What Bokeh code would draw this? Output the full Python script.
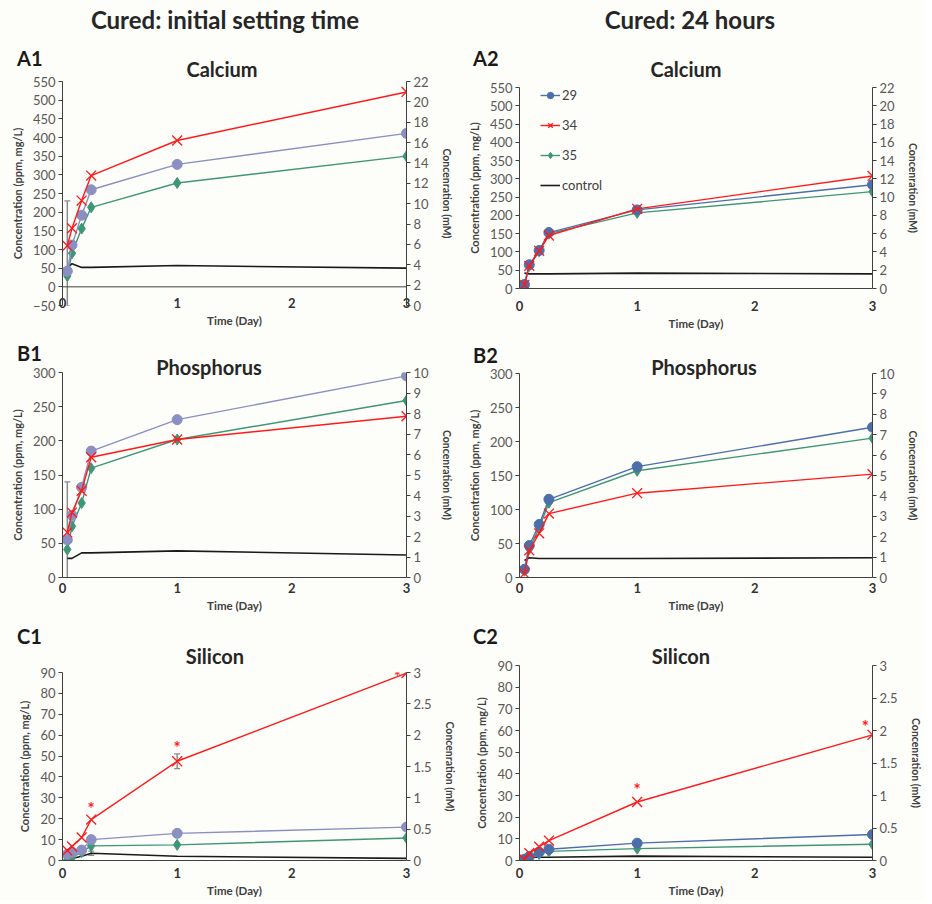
from bokeh.plotting import figure
from bokeh.models import (Range1d, LinearAxis, SingleIntervalTicker, FixedTicker, Span,
                          Whisker, ColumnDataSource, LabelSet, Legend, LegendItem,
                          Div, PrintfTickFormatter, TeeHead)
from bokeh.layouts import column, row
from bokeh.embed import file_html
from bokeh.resources import INLINE
from bokeh.core.properties import value

# ---------------- data ----------------
TIME = [0.042, 0.083, 0.167, 0.25, 1, 3]      # days (1 h, 2 h, 4 h, 6 h, 1 d, 3 d)
X_TICKS = [0, 1, 2, 3]
SERIES = ["29", "34", "35", "control"]

# Calcium (ppm)
A1_29 = [42, 112, 192, 260, 328, 411]
A1_34 = [110, 157, 231, 298, 392, 522]
A1_35 = [29, 90, 156, 213, 278, 350]
A1_CTRL = [50, 62, 52, 52, 57, 50]
A2_29 = [11, 65, 104, 153, 215, 284]
A2_34 = [10, 62, 103, 145, 218, 308]
A2_35 = [10, 62, 102, 150, 207, 265]
A2_CTRL = [42, 40, 40, 40, 42, 40]

# Phosphorus (ppm)
B1_29 = [55, 91, 132, 185, 231, 295]
B1_34 = [66, 95, 127, 176, 202, 236]
B1_35 = [41, 75, 109, 160, 202, 259]
B1_CTRL = [28, 28, 36, 36, 39, 33]
B2_29 = [12, 47, 78, 115, 163, 221]
B2_34 = [6, 40, 65, 94, 124, 152]
B2_35 = [10, 42, 73, 110, 157, 205]
B2_CTRL = [25, 29, 28, 28, 28, 29]

# Silicon (ppm)
C1_29 = [3, 4, 5, 10, 13, 16]
C1_34 = [4.8, 6.7, 11, 19.6, 47.5, 89.7]
C1_35 = [0.5, 1.5, 4, 7, 7.5, 10.8]
C1_CTRL = [0.5, 1, 2, 3.5, 2, 1]
C2_29 = [0.6, 1.8, 3.8, 5.2, 8, 12]
C2_34 = [0.5, 3.4, 6.4, 9.2, 27, 58]
C2_35 = [0.3, 1.2, 3, 4.2, 5.5, 7.5]
C2_CTRL = [1, 1.5, 1.5, 1.5, 2, 1.5]

# error bars (x, lower, upper)
A1_ERR_X, A1_ERR_LO, A1_ERR_HI = [0.042], [-50], [230]
B1_ERR_X, B1_ERR_LO, B1_ERR_HI = [0.042], [0], [140]
C1_ERR_X, C1_ERR_LO, C1_ERR_HI = [0.25, 1], [2.5, 44], [4.5, 51]

# significance asterisks
C1_STAR_X, C1_STAR_Y = [0.25, 1, 2.92], [25, 54, 88]
C2_STAR_X, C2_STAR_Y = [1, 2.94], [33, 62]

# ---------------- style ----------------
FONT = "Lato"
BG = "#fdfdfa"
LAV = "#8b8fc2"
BLUE = "#4c6faa"
RED = "#ff1a1a"
GREEN = "#3f9677"
BLACK = "#1a1a1a"
TICK_C = "#595959"

LEFT_W, RIGHT_W = 458, 466


def title_div(width, height, label, label_x, label_y, title, title_cx, title_cy):
    html = (
        f'<div style="position:relative;width:{width}px;height:{height}px;">'
        f'<div style="position:absolute;left:{label_x}px;top:{label_y}px;'
        f'transform:translate(0,-50%);font-family:{FONT};font-weight:bold;font-size:20px;'
        f'color:#1a1a1a;white-space:nowrap;line-height:24px;">{label}</div>'
        f'<div style="position:absolute;left:{title_cx}px;top:{title_cy}px;'
        f'transform:translate(-50%,-50%);font-family:{FONT};font-weight:bold;font-size:20px;'
        f'color:#262626;white-space:nowrap;line-height:24px;">{title}</div>'
        f'</div>'
    )
    return Div(text=html, width=width, height=height, margin=0,
               styles={"overflow": "visible", "position": "relative", "z-index": "3",
                       "background-color": BG})


def make_panel(col, y_rng, y_int, r_rng, r_int, s29, s34, s35, sctrl,
               height, top, bottom, x_standoff=5, zero_span=False,
               err=None, stars=None, r_fmt=None, legend=False):
    if col == 0:
        width, left, right = LEFT_W, 62, 52
    else:
        width, left, right = RIGHT_W, 61, 48
    p = figure(width=width, height=height, output_backend="svg", toolbar_location=None,
               title=None, margin=0,
               x_range=Range1d(0, 3), y_range=Range1d(*y_rng),
               min_border_left=left, min_border_right=right,
               min_border_top=top, min_border_bottom=bottom,
               background_fill_color=BG, border_fill_color=BG, border_fill_alpha=0,
               outline_line_color=None)
    p.grid.visible = False

    # x axis
    xa = p.xaxis[0]
    xa.ticker = FixedTicker(ticks=X_TICKS)
    xa.major_tick_out = 0
    xa.major_tick_in = 0
    xa.minor_tick_out = 0
    xa.minor_tick_in = 0
    xa.major_label_text_font = FONT
    xa.major_label_text_font_style = "bold"
    xa.major_label_text_font_size = "13px"
    xa.major_label_text_color = "#333333"
    xa.major_label_standoff = x_standoff
    xa.axis_label = "Time (Day)"
    xa.axis_label_text_font = FONT
    xa.axis_label_text_font_style = "bold"
    xa.axis_label_text_font_size = "11.5px"
    xa.axis_label_text_color = "#404040"
    xa.axis_label_standoff = 3
    xa.axis_line_color = "#404040"
    if zero_span:
        xa.axis_line_color = None
        p.add_layout(Span(location=0, dimension="width", line_color="#404040", line_width=1))

    # left axis
    ya = p.yaxis[0]
    ya.ticker = SingleIntervalTicker(interval=y_int)
    ya.major_tick_in = 0
    ya.major_tick_out = 4
    ya.minor_tick_in = 0
    ya.minor_tick_out = 0
    ya.major_label_text_font = FONT
    ya.major_label_text_font_size = "13px"
    ya.major_label_text_color = TICK_C
    ya.major_label_standoff = 3
    ya.axis_line_color = "#404040"
    ya.major_tick_line_color = "#404040"
    ya.axis_label = "Concentration (ppm, mg/L)"
    ya.axis_label_text_font = FONT
    ya.axis_label_text_font_style = "bold"
    ya.axis_label_text_font_size = "11px"
    ya.axis_label_text_color = "#404040"
    ya.axis_label_standoff = 6

    # right axis (mM)
    p.extra_y_ranges = {"mM": Range1d(*r_rng)}
    ra = LinearAxis(y_range_name="mM", ticker=SingleIntervalTicker(interval=r_int))
    ra.major_tick_in = 0
    ra.major_tick_out = 4
    ra.minor_tick_in = 0
    ra.minor_tick_out = 0
    ra.major_label_text_font = FONT
    ra.major_label_text_font_size = "13px"
    ra.major_label_text_color = TICK_C
    ra.major_label_standoff = 3
    ra.axis_line_color = "#404040"
    ra.major_tick_line_color = "#404040"
    ra.axis_label = "Concenration (mM)"
    ra.axis_label_text_font = FONT
    ra.axis_label_text_font_style = "bold"
    ra.axis_label_text_font_size = "10.5px"
    ra.axis_label_text_color = "#404040"
    ra.axis_label_standoff = 9
    if r_fmt:
        ra.formatter = PrintfTickFormatter(format=r_fmt)
    p.add_layout(ra, "right")

    c29 = LAV if col == 0 else BLUE

    if err is not None:
        ex, elo, ehi = err
        src = ColumnDataSource(dict(x=ex, lo=elo, hi=ehi))
        p.add_layout(Whisker(source=src, base="x", lower="lo", upper="hi", dimension="height",
                             line_color="#8c8c8c", line_width=1.5,
                             upper_head=TeeHead(size=6, line_color="#8c8c8c", line_width=1.2),
                             lower_head=TeeHead(size=6, line_color="#8c8c8c", line_width=1.2)))

    rc = p.line(TIME, sctrl, line_color=BLACK, line_width=1.6)
    l35 = p.line(TIME, s35, line_color=GREEN, line_width=1.4)
    m35 = p.scatter(TIME, s35, marker="diamond", size=11, fill_color=GREEN, line_color=GREEN)
    l29 = p.line(TIME, s29, line_color=c29, line_width=1.4)
    m29 = p.scatter(TIME, s29, marker="circle", size=10, fill_color=c29, line_color=c29)
    l34 = p.line(TIME, s34, line_color=RED, line_width=1.4)
    m34 = p.scatter(TIME, s34, marker="x", size=14, line_color=RED, line_width=1.3)

    if stars is not None:
        sx, sy = stars
        ssrc = ColumnDataSource(dict(x=sx, y=sy, t=["*"] * len(sx)))
        p.add_layout(LabelSet(source=ssrc, x="x", y="y", text="t", text_color=RED,
                              text_font=value(FONT), text_font_size="17px", text_font_style="bold",
                              text_align="center", text_baseline="middle"))

    if legend:
        frame_h = height - top - bottom
        items = [LegendItem(label=SERIES[0], renderers=[l29, m29]),
                 LegendItem(label=SERIES[1], renderers=[l34, m34]),
                 LegendItem(label=SERIES[2], renderers=[l35, m35]),
                 LegendItem(label=SERIES[3], renderers=[rc])]
        pad = 0
        gh = 16
        sp = 14
        leg_h = 4 * gh + 3 * sp + 2 * pad
        leg = Legend(items=items, location=(21, frame_h - leg_h), orientation="vertical",
                     glyph_width=20, glyph_height=gh, label_height=gh, spacing=sp,
                     padding=pad, margin=0, label_standoff=2,
                     label_text_font=FONT, label_text_font_size="13px",
                     label_text_color="#404040", border_line_color=None,
                     background_fill_alpha=0)
        p.add_layout(leg)
    return p


hdr_style = {"font-family": FONT, "font-weight": "bold", "font-size": "24px",
             "color": "#262626", "text-align": "center", "line-height": "40px",
             "background-color": BG, "box-sizing": "border-box", "overflow": "visible"}
h1 = Div(text="Cured: initial setting time", width=LEFT_W, height=36, margin=0,
         styles=dict(hdr_style, **{"padding-right": "8px"}))
h2 = Div(text="Cured: 24 hours", width=RIGHT_W, height=36, margin=0,
         styles=dict(hdr_style, **{"padding-right": "2px"}))

# row A: title strip 36-73, figure 73-332
tA1 = title_div(LEFT_W, 37, "A1", 17, 22, "Calcium", 222, 33)
tA2 = title_div(RIGHT_W, 37, "A2", 15, 22, "Calcium", 228, 33)
a1 = make_panel(0, (-50, 550), 50, (0, 22), 2, A1_29, A1_34, A1_35, A1_CTRL,
                259, 8, 27, x_standoff=-8, zero_span=True,
                err=(A1_ERR_X, A1_ERR_LO, A1_ERR_HI))
a2 = make_panel(1, (0, 550), 50, (0, 22), 2, A2_29, A2_34, A2_35, A2_CTRL,
                259, 14, 44, x_standoff=12, legend=True)

# row B: title strip 332-357, figure 357-614
tB1 = title_div(LEFT_W, 25, "B1", 17, 21, "Phosphorus", 209, 35)
tB2 = title_div(RIGHT_W, 25, "B2", 15, 23, "Phosphorus", 246, 35)
b1 = make_panel(0, (0, 300), 50, (0, 10), 1, B1_29, B1_34, B1_35, B1_CTRL,
                257, 15, 37, x_standoff=5, err=(B1_ERR_X, B1_ERR_LO, B1_ERR_HI))
b2 = make_panel(1, (0, 300), 50, (0, 10), 1, B2_29, B2_34, B2_35, B2_CTRL,
                257, 16, 37, x_standoff=5)

# row C: title strip 614-640, figure 640-900
tC1 = title_div(LEFT_W, 26, "C1", 17, 22, "Silicon", 215, 42)
tC2 = title_div(RIGHT_W, 26, "C2", 15, 22, "Silicon", 223, 42)
c1 = make_panel(0, (0, 90), 10, (0, 3), 0.5, C1_29, C1_34, C1_35, C1_CTRL,
                260, 32, 40, x_standoff=7, err=(C1_ERR_X, C1_ERR_LO, C1_ERR_HI),
                stars=(C1_STAR_X, C1_STAR_Y), r_fmt="%g")
c2 = make_panel(1, (0, 90), 10, (0, 3), 0.5, C2_29, C2_34, C2_35, C2_CTRL,
                260, 25, 40, x_standoff=7, stars=(C2_STAR_X, C2_STAR_Y), r_fmt="%g")

layout = row(column(h1, tA1, a1, tB1, b1, tC1, c1, margin=0),
             column(h2, tA2, a2, tB2, b2, tC2, c2, margin=0),
             margin=0, styles={"background-color": BG})

open("out.html", "w").write(file_html(layout, INLINE, title="Ion release"))
